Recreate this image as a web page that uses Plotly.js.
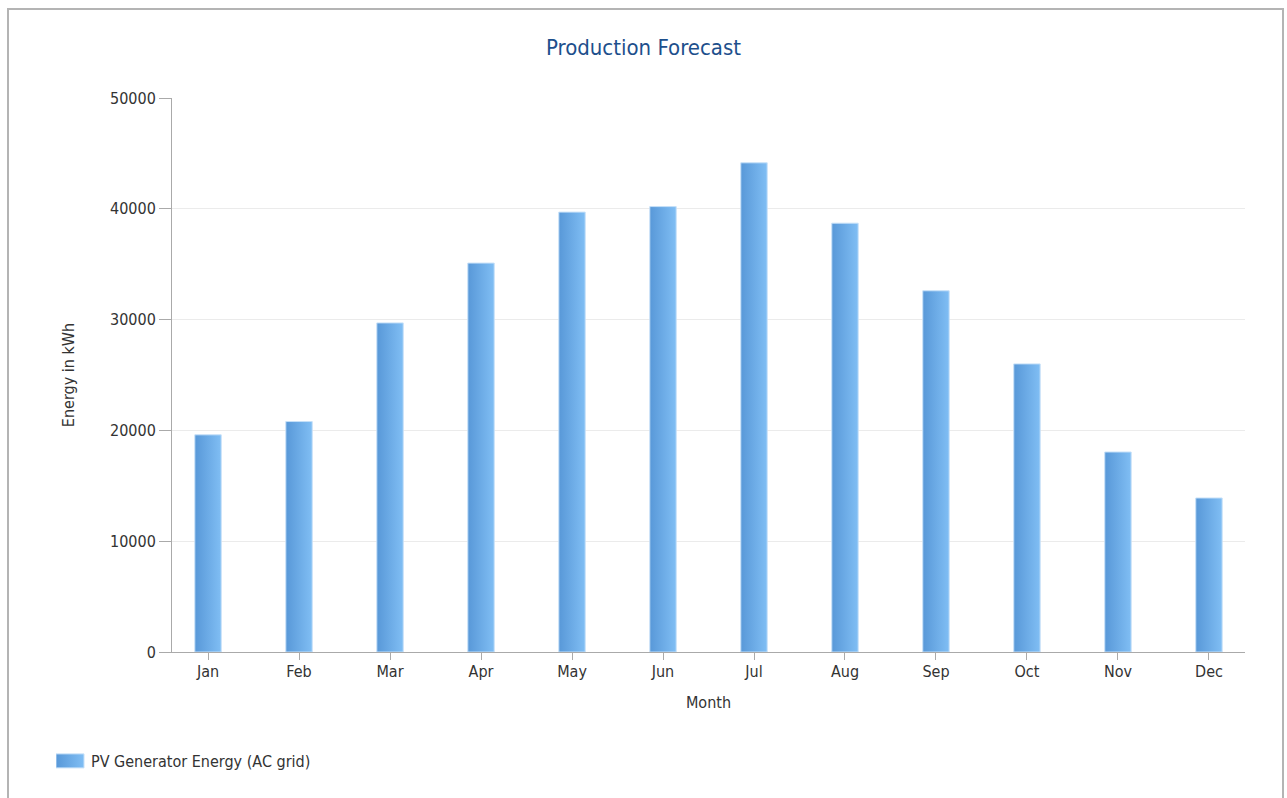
<!DOCTYPE html>
<html>
<head>
<meta charset="utf-8">
<script src="https://cdn.plot.ly/plotly-3.0.1.min.js"></script>
<style>
  html, body { margin: 0; padding: 0; background: #fff; }
  #frame { position: absolute; left: 7px; top: 8px; width: 1277px; height: 800px;
           border: 2px solid #b4b4b4; border-bottom: none; box-sizing: border-box; }
  #chart { position: absolute; left: 0; top: 0; width: 1287px; height: 798px; }
</style>
</head>
<body>
<div id="chart"></div>
<div id="frame"></div>
<script>
// Monthly PV production forecast
const months = ["Jan", "Feb", "Mar", "Apr", "May", "Jun", "Jul", "Aug", "Sep", "Oct", "Nov", "Dec"];
const energyKWh = [19600, 20800, 29700, 35100, 39700, 40200, 44150, 38700, 32600, 26000, 18050, 13900];
const yTicks = [0, 10000, 20000, 30000, 40000, 50000];
const seriesName = "PV Generator Energy (AC grid)";

const FONT = '"DejaVu Sans Condensed", "DejaVu Sans", sans-serif';

const trace = {
  type: "bar",
  name: seriesName,
  x: months.map((m, i) => i),
  y: energyKWh,
  width: 0.29,
  marker: { color: "#6caae6", line: { color: "#c6e0f8", width: 1 } },
  showlegend: true,
  hoverinfo: "x+y"
};

const layout = {
  width: 1287,
  height: 798,
  margin: { l: 172, r: 42, t: 98, b: 146 },
  paper_bgcolor: "#ffffff",
  plot_bgcolor: "#ffffff",
  font: { family: FONT, size: 16, color: "#333333" },
  title: {
    text: "Production Forecast",
    font: { family: FONT, size: 22, color: "#1d4f8c" },
    x: 0.5, xanchor: "center", xref: "container",
    y: 1 - 47 / 798, yanchor: "middle", yref: "container"
  },
  xaxis: {
    range: [-0.396, 11.396],
    tickmode: "array",
    tickvals: months.map((m, i) => i),
    ticktext: months,
    ticks: "outside", ticklen: 7, tickcolor: "#aaaaaa", tickwidth: 1,
    ticklabelstandoff: -2,
    showline: true, linecolor: "#aaaaaa", linewidth: 1,
    showgrid: false, zeroline: false,
    tickfont: { family: FONT, size: 16, color: "#333333" },
    title: { text: "Month", font: { family: FONT, size: 16, color: "#333333" }, standoff: 16 }
  },
  yaxis: {
    range: [0, 50000],
    tickmode: "array",
    tickvals: yTicks,
    ticktext: yTicks.map(String),
    ticks: "outside", ticklen: 12, tickcolor: "#aaaaaa", tickwidth: 1,
    showline: true, linecolor: "#aaaaaa", linewidth: 1,
    showgrid: true, gridcolor: "#ebebeb", gridwidth: 1,
    zeroline: false,
    tickfont: { family: FONT, size: 16, color: "#333333" },
    title: { text: "Energy in kWh", font: { family: FONT, size: 16, color: "#333333" }, standoff: 31 }
  },
  legend: {
    orientation: "h",
    x: 56 / 1287, xref: "container", xanchor: "left",
    y: 1 - 761 / 798, yref: "container", yanchor: "middle",
    font: { family: FONT, size: 16, color: "#333333" },
    bgcolor: "rgba(0,0,0,0)"
  },
  bargap: 0.7
};

// Horizontal gradient used to shade every bar and the legend swatch
function applyGradient(gd) {
  const svg = gd.querySelector("svg.main-svg");
  const ns = "http://www.w3.org/2000/svg";
  let defs = svg.querySelector("defs");
  if (!defs) { defs = document.createElementNS(ns, "defs"); svg.insertBefore(defs, svg.firstChild); }
  const grad = document.createElementNS(ns, "linearGradient");
  grad.setAttribute("id", "barShade");
  grad.setAttribute("x1", "0"); grad.setAttribute("y1", "0");
  grad.setAttribute("x2", "1"); grad.setAttribute("y2", "0");
  [["0", "#5898d8"], ["1", "#80bef4"]].forEach(([o, c]) => {
    const s = document.createElementNS(ns, "stop");
    s.setAttribute("offset", o); s.setAttribute("stop-color", c);
    grad.appendChild(s);
  });
  defs.appendChild(grad);
  gd.querySelectorAll(".barlayer .point path").forEach(p => { p.style.fill = "url(#barShade)"; });
  gd.querySelectorAll(".legend .legendpoints path").forEach(p => {
    p.setAttribute("d", "M8,7H-20V-7H8Z");
    p.style.fill = "url(#barShade)";
    p.style.stroke = "#c6e0f8";
  });
  gd.querySelectorAll(".legend .legendtext").forEach(t => { t.setAttribute("x", "35"); });
}

Plotly.newPlot("chart", [trace], layout, { displayModeBar: false, staticPlot: true })
  .then(applyGradient);
</script>
</body>
</html>
